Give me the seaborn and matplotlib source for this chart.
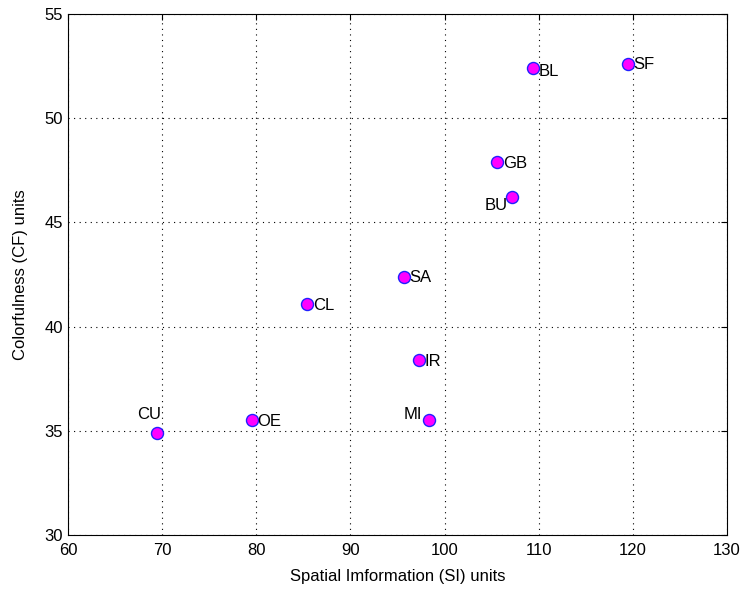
import matplotlib
matplotlib.use("Agg")
import matplotlib.pyplot as plt
import seaborn as sns
import pandas as pd

labels = ["CU", "OE", "CL", "SA", "IR", "MI", "GB", "BU", "BL", "SF"]
si_values = [69.4, 79.5, 85.4, 95.7, 97.3, 98.3, 105.6, 107.2, 109.4, 119.5]
cf_values = [34.9, 35.5, 41.1, 42.4, 38.4, 35.5, 47.9, 46.2, 52.4, 52.6]

# label placement relative to the point (offset in points, horizontal alignment)
label_offsets = {
    "CU": (-5, 13, "center"),
    "OE": (4, -1, "left"),
    "CL": (4, -1, "left"),
    "SA": (4, -1, "left"),
    "IR": (4, -1, "left"),
    "MI": (-5, 4, "right"),
    "GB": (4, -1, "left"),
    "BU": (-3, -6, "right"),
    "BL": (4, -2, "left"),
    "SF": (4, 0, "left"),
}

df = pd.DataFrame({"SI": si_values, "CF": cf_values, "label": labels})

sns.set_style("white")
plt.rcParams["font.family"] = ["Liberation Sans", "DejaVu Sans"]
plt.rcParams["text.color"] = "black"
plt.rcParams["axes.labelcolor"] = "black"

fig = plt.figure(figsize=(7.45, 5.9), dpi=100)
ax = fig.add_axes([0.0913, 0.0932, 0.8846, 0.8830])

sns.scatterplot(data=df, x="SI", y="CF", ax=ax, s=75, color="#ff00ff",
                edgecolor="#2020ff", linewidth=1.0, zorder=3)

for _, row in df.iterrows():
    dx, dy, ha = label_offsets[row["label"]]
    ax.annotate(row["label"], (row["SI"], row["CF"]), xytext=(dx, dy),
                textcoords="offset points", ha=ha, va="center", fontsize=12)

ax.set_xlim(60, 130)
ax.set_ylim(30, 55)
ax.set_xticks(range(60, 131, 10))
ax.set_yticks(range(30, 56, 5))
ax.grid(True, color="black", linestyle=(0, (1, 4)), linewidth=0.8)
ax.tick_params(direction="in", length=4, labelsize=12, top=True, right=True,
               colors="black", labelcolor="black")
ax.tick_params(axis="x", pad=6)
for spine in ax.spines.values():
    spine.set_color("black")
    spine.set_linewidth(0.8)

ax.set_xlabel("Spatial Imformation (SI) units", fontsize=12, labelpad=8)
ax.set_ylabel("Colorfulness (CF) units", fontsize=12, labelpad=12)

fig.savefig("out.png", dpi=100)
